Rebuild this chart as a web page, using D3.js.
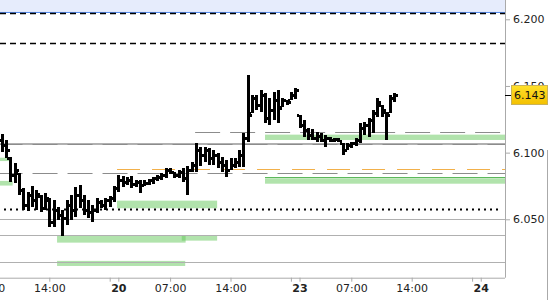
<!DOCTYPE html>
<html>
<head>
<meta charset="utf-8">
<script src="https://cdn.jsdelivr.net/npm/d3@7"></script>
<style>
  body { margin: 0; background: #fff; }
  svg { display: block; }
  text { font-family: "DejaVu Sans", sans-serif; }
</style>
</head>
<body>
<svg id="chart" width="550" height="300"></svg>
<script>
// 30 minute bars, slot 0 = 14:00 on the 19th, bars run on from slot -11
var firstSlot = -11;
var opens = [6.1095,6.1057,6.0960,6.0832,6.0847,6.0720,6.0607,6.0682,6.0645,6.0675,6.0585,
  6.0645,6.0480,6.0570,6.0532,6.0510,6.0607,6.0570,6.0682,6.0645,6.0570,6.0555,6.0570,6.0630,6.0607,6.0645,
  6.0660,6.0735,6.0795,6.0780,6.0795,6.0765,6.0780,6.0757,6.0772,6.0795,6.0810,6.0817,6.0832,6.0870,6.0855,
  6.0832,6.0855,6.0810,6.0870,6.0907,6.1020,6.0982,6.1020,6.0960,6.0982,6.0930,6.0907,6.0870,6.0907,6.0930,
  6.0982,6.1110,6.1297,6.1410,6.1357,6.1432,6.1260,6.1320,6.1395,6.1342,6.1395,6.1395,6.1432,6.1282,6.1207,
  6.1170,6.1132,6.1110,6.1125,6.1095,6.1110,6.1095,6.1102,6.1072,6.1020,6.1057,6.1072,6.1095,6.1185,6.1207,
  6.1245,6.1297,6.1357,6.1305,6.1297,6.1410];
var highs = [6.1140,6.1095,6.0967,6.0922,6.0847,6.0735,6.0705,6.0750,6.0720,6.0682,6.0697,
  6.0660,6.0645,6.0592,6.0570,6.0645,6.0682,6.0742,6.0757,6.0682,6.0645,6.0607,6.0660,6.0645,6.0660,6.0675,
  6.0750,6.0832,6.0825,6.0817,6.0825,6.0795,6.0795,6.0795,6.0802,6.0817,6.0832,6.0847,6.0885,6.0885,6.0855,
  6.0870,6.0885,6.0900,6.0930,6.1072,6.1042,6.1042,6.1035,6.1020,6.0998,6.0967,6.0945,6.0960,6.0960,6.1020,
  6.1147,6.1582,6.1432,6.1432,6.1470,6.1447,6.1410,6.1455,6.1470,6.1410,6.1395,6.1455,6.1485,6.1282,6.1245,
  6.1185,6.1177,6.1155,6.1147,6.1132,6.1117,6.1110,6.1110,6.1072,6.1072,6.1080,6.1110,6.1222,6.1230,6.1260,
  6.1320,6.1410,6.1357,6.1305,6.1432,6.1447];
var lows = [6.1005,6.0960,6.0780,6.0772,6.0682,6.0570,6.0562,6.0592,6.0570,6.0555,6.0570,
  6.0442,6.0442,6.0495,6.0375,6.0457,6.0495,6.0517,6.0585,6.0532,6.0510,6.0480,6.0547,6.0585,6.0570,6.0592,
  6.0630,6.0705,6.0742,6.0757,6.0735,6.0742,6.0697,6.0750,6.0757,6.0765,6.0787,6.0795,6.0810,6.0840,6.0810,
  6.0810,6.0780,6.0682,6.0855,6.0855,6.0900,6.0930,6.0907,6.0907,6.0885,6.0855,6.0817,6.0870,6.0885,6.0892,
  6.0892,6.1080,6.1297,6.1320,6.1305,6.1222,6.1207,6.1245,6.1222,6.1342,6.1357,6.1395,6.1402,6.1185,6.1117,
  6.1095,6.1095,6.1080,6.1080,6.1042,6.1080,6.1080,6.1080,6.0982,6.1020,6.1035,6.1050,6.1072,6.1132,6.1117,
  6.1147,6.1267,6.1267,6.1095,6.1297,6.1380];
var closes = [6.1057,6.1020,6.0832,6.0870,6.0720,6.0607,6.0682,6.0645,6.0690,6.0585,6.0660,
  6.0480,6.0570,6.0532,6.0510,6.0607,6.0570,6.0682,6.0645,6.0570,6.0555,6.0570,6.0630,6.0607,6.0645,6.0660,
  6.0735,6.0795,6.0780,6.0795,6.0765,6.0780,6.0757,6.0772,6.0795,6.0810,6.0817,6.0832,6.0870,6.0855,6.0832,
  6.0855,6.0810,6.0870,6.0907,6.1020,6.0982,6.1020,6.0960,6.0982,6.0930,6.0907,6.0870,6.0907,6.0930,6.0982,
  6.1110,6.1282,6.1410,6.1357,6.1432,6.1260,6.1320,6.1395,6.1335,6.1395,6.1380,6.1432,6.1470,6.1207,6.1170,
  6.1132,6.1110,6.1125,6.1095,6.1110,6.1095,6.1102,6.1087,6.1020,6.1057,6.1072,6.1095,6.1185,6.1207,6.1245,
  6.1297,6.1380,6.1320,6.1282,6.1410,6.1430];
var lastPrice = 6.143;

// time axis
var tickSlots  = [-14, 0, 14, 16, 28, 42, 56, 58, 70, 84, 98, 100];
var tickLabels = ["07:00", "14:00", "", "20", "07:00", "14:00", "", "23", "07:00", "14:00", "", "24"];
var dayLabels  = ["20", "23", "24"];
var priceTicks = [6.05, 6.10, 6.15, 6.20];

// level zones (green boxes)
var zoneStart  = [-12, -12, 15.7, 1.8, 30.7, 1.8, 50, 50];
var zoneEnd    = [-9.3, -8.5, 38.9, 31.6, 38.9, 31.5, 106, 106];
var zoneTop    = [6.0962, 6.0788, 6.0640, 6.0377, 6.0375, 6.0188, 6.1135, 6.0808];
var zoneBottom = [6.0937, 6.0753, 6.0583, 6.0325, 6.0340, 6.0150, 6.1095, 6.0767];

// horizontal levels
var bluePrice = 6.2055;
var blackDashed = [6.2045, 6.1820];
var greySolid = [6.050, 6.038, 6.018, 6.1071, 6.1063];
var greyDashed = [6.1153, 6.0845, 6.1063];
var greyDashedFrom = [33.8, -12, -12];
var orangeDashed = 6.0875, orangeFrom = 15.7;
var greenLine = 6.0817, greenFrom = 50;
var dottedLine = 6.0575, dottedFrom = -10.5, dottedTo = 104.6;

var plotRight = 505, plotBottom = 277.7;
var svg = d3.select('#chart');

var x = d3.scaleLinear().domain([0, 84]).range([49.3, 411.7]);
var y = d3.scaleLinear().domain([6.05, 6.20]).range([219.3, 19.3]);

svg.append('clipPath').attr('id', 'plotclip')
  .append('rect').attr('x', 0).attr('y', 0).attr('width', plotRight).attr('height', plotBottom);
var plot = svg.append('g').attr('clip-path', 'url(#plotclip)');

// blue band at the top
plot.append('rect').attr('x', 0).attr('y', 0).attr('width', plotRight).attr('height', y(bluePrice))
  .attr('fill', '#e6ecfc');
plot.append('line').attr('x1', 0).attr('x2', plotRight).attr('y1', y(bluePrice) + 0.5).attr('y2', y(bluePrice) + 0.5)
  .attr('stroke', '#4f88ee').attr('stroke-width', 1);

// zones
plot.selectAll('rect.zone').data(zoneStart).enter().append('rect').attr('class', 'zone')
  .attr('x', function(d) { return x(d); })
  .attr('width', function(d, i) { return x(zoneEnd[i]) - x(d); })
  .attr('y', function(d, i) { return y(zoneTop[i]); })
  .attr('height', function(d, i) { return y(zoneBottom[i]) - y(zoneTop[i]); })
  .attr('fill', 'rgba(100,200,90,0.5)');

function hline(p, from, to, color, width, dash) {
  var l = plot.append('line')
    .attr('x1', from == null ? 0 : x(from)).attr('x2', to == null ? plotRight : x(to))
    .attr('y1', Math.round(y(p)) + 0.5).attr('y2', Math.round(y(p)) + 0.5)
    .attr('stroke', color).attr('stroke-width', width);
  if (dash) l.attr('stroke-dasharray', dash);
  return l;
}

greySolid.forEach(function(p) { hline(p, null, null, '#b0b0b0', 1); });
greyDashed.forEach(function(p, i) { hline(p, greyDashedFrom[i], null, '#8c8c8c', 1.2, '25,10'); });
blackDashed.forEach(function(p) { hline(p, null, null, '#000', 1.5, '6,4'); });
hline(orangeDashed, orangeFrom, null, '#f2b04a', 1.2, '23,12');
hline(greenLine, greenFrom, null, '#5cb85c', 1);
hline(dottedLine, dottedFrom, dottedTo, '#000', 2, '2,4');

// OHLC bars
var bars = opens.map(function(o, i) {
  return { slot: firstSlot + i, o: o, h: highs[i], l: lows[i], c: closes[i] };
});
var barG = plot.append('g').attr('fill', '#000');
bars.forEach(function(b) {
  var cx = Math.round(x(b.slot));
  var top = Math.round(y(b.h)), bot = Math.round(y(b.l));
  barG.append('rect').attr('x', cx - 1).attr('y', top).attr('width', 3).attr('height', Math.max(3, bot - top));
  barG.append('rect').attr('x', cx - 3).attr('y', Math.round(y(b.o)) - 1).attr('width', 2).attr('height', 3);
  barG.append('rect').attr('x', cx + 2).attr('y', Math.round(y(b.c)) - 1).attr('width', 2).attr('height', 3);
});

// axes
var bottomAxis = d3.axisBottom(x).tickValues(tickSlots).tickSize(4).tickSizeOuter(0)
  .tickFormat(function(d, i) { return tickLabels[i]; });
var gx = svg.append('g').attr('transform', 'translate(0,' + plotBottom + ')').call(bottomAxis);
gx.select('.domain').remove();
gx.selectAll('line').attr('stroke', '#aaa');
gx.selectAll('text').attr('fill', '#222').style('font-size', '11px')
  .style('font-weight', function(d, i) { return dayLabels.indexOf(tickLabels[i]) >= 0 ? 'bold' : 'normal'; });

var rightAxis = d3.axisRight(y).tickValues(priceTicks).tickSize(5).tickSizeOuter(0)
  .tickFormat(d3.format('.3f'));
var gy = svg.append('g').attr('transform', 'translate(' + plotRight + ',0)').call(rightAxis);
gy.select('.domain').remove();
gy.selectAll('line').attr('stroke', '#aaa');
gy.selectAll('text').attr('fill', '#222').style('font-size', '11px');

svg.append('line').attr('x1', plotRight + 0.5).attr('x2', plotRight + 0.5).attr('y1', 0).attr('y2', plotBottom)
  .attr('stroke', '#aaa');
svg.append('line').attr('x1', 0).attr('x2', plotRight).attr('y1', plotBottom + 0.5).attr('y2', plotBottom + 0.5)
  .attr('stroke', '#aaa');
svg.append('line').attr('x1', 547.5).attr('x2', 547.5).attr('y1', 150).attr('y2', 300).attr('stroke', '#aaa');

// last price marker
var defs = svg.append('defs');
var grad = defs.append('linearGradient').attr('id', 'lastgrad').attr('x1', 0).attr('x2', 0).attr('y1', 0).attr('y2', 1);
grad.append('stop').attr('offset', '0%').attr('stop-color', '#ffe02a');
grad.append('stop').attr('offset', '100%').attr('stop-color', '#f3c000');
var ly = y(lastPrice);
svg.append('line').attr('x1', plotRight).attr('x2', plotRight + 6).attr('y1', Math.round(ly) + 0.5).attr('y2', Math.round(ly) + 0.5)
  .attr('stroke', '#000');
svg.append('rect').attr('x', plotRight + 6.5).attr('y', Math.round(ly) - 9.5).attr('width', 36).attr('height', 19)
  .attr('fill', 'url(#lastgrad)').attr('stroke', '#c9b25a');
svg.append('text').attr('x', plotRight + 9).attr('y', ly).attr('dy', '0.36em')
  .attr('fill', '#111').style('font-size', '11px').text(d3.format('.3f')(lastPrice));
</script>
</body>
</html>
